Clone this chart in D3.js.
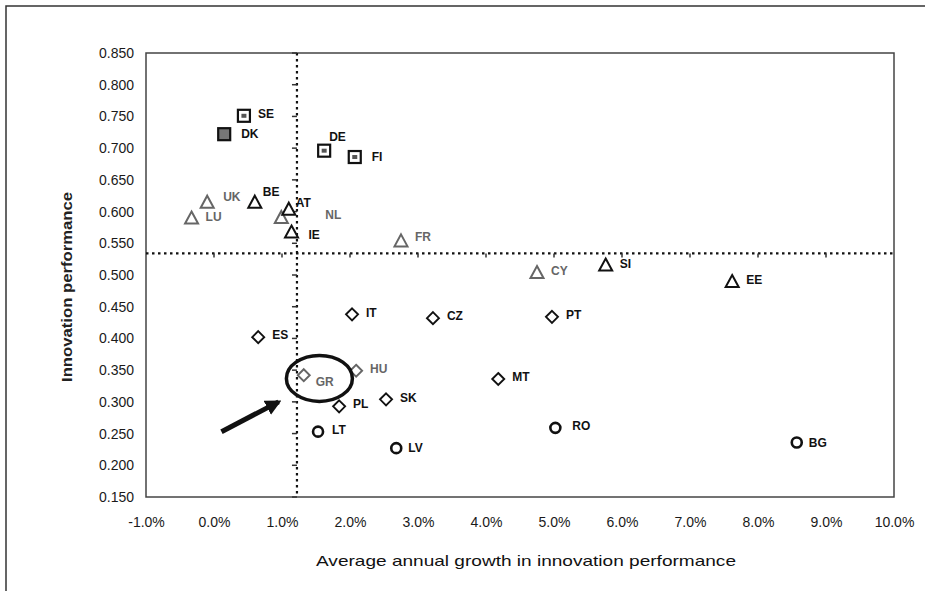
<!DOCTYPE html>
<html><head><meta charset="utf-8">
<script src="https://cdn.jsdelivr.net/npm/d3@7"></script>
<style>
html,body{margin:0;padding:0;background:#fff;}
svg{display:block;font-family:"Liberation Sans",Arial,sans-serif;}
</style></head>
<body>
<svg id="chart" width="925" height="591"></svg>
<script>
// ---- data ----
const countries   = ["SE","DK","DE","FI","UK","BE","LU","NL","AT","IE","FR","CY","SI","EE","IT","CZ","ES","HU","GR","PL","SK","PT","MT","LT","LV","RO","BG"];
const growth      = [0.44,0.15,1.62,2.07,-0.10,0.60,-0.33,0.99,1.10,1.14,2.75,4.75,5.76,7.62,2.03,3.22,0.65,2.09,1.32,1.84,2.53,4.97,4.18,1.53,2.68,5.02,8.57];
const performance = [0.751,0.722,0.696,0.686,0.614,0.614,0.589,0.590,0.603,0.567,0.553,0.503,0.515,0.489,0.438,0.432,0.402,0.349,0.342,0.293,0.304,0.434,0.336,0.253,0.227,0.259,0.236];
const group       = ["leader","leader","leader","leader","follower","follower","follower","follower","follower","follower","follower","follower","follower","follower","moderate","moderate","moderate","moderate","moderate","moderate","moderate","moderate","moderate","catching","catching","catching","catching"];
const xTicks = [-1,0,1,2,3,4,5,6,7,8,9,10];
const yTicks = [0.15,0.2,0.25,0.3,0.35,0.4,0.45,0.5,0.55,0.6,0.65,0.7,0.75,0.8,0.85];
const euAvgGrowth = 1.22;
const euAvgPerf = 0.534;
const xTitle = "Average annual growth in innovation performance";
const yTitle = "Innovation performance";

// ---- layout / style ----
const svg = d3.select("#chart");
const L = 146, R = 894, T = 53, B = 497;
const x = d3.scaleLinear().domain([-1,10]).range([L,R]);
const y = d3.scaleLinear().domain([0.15,0.85]).range([B,T]);
const labelOffset = {DE:[5,-14],BE:[8,-11],UK:[16,-6],NL:[44,-3],AT:[7,-7],IE:[17,2],GR:[12,7],LV:[12,0],BG:[12,0],DK:[17,0],FI:[17,0],RO:[17,-2],FR:[14,-5]};
const grayLabels = new Set(["UK","LU","NL","FR","CY","HU","GR"]);

// outer frame (left and top only)
svg.append("path").attr("d","M6,591 L6,6 L925,6")
  .attr("fill","none").attr("stroke","#333").attr("stroke-width",1.5);

// plot box
svg.append("rect").attr("x",L).attr("y",T).attr("width",R-L).attr("height",B-T)
  .attr("fill","none").attr("stroke","#444").attr("stroke-width",1.5);

// axes labels via d3 axes (no domain/ticks)
const yAxis = svg.append("g").attr("transform",`translate(${L},0)`)
  .call(d3.axisLeft(y).tickValues(yTicks).tickFormat(d3.format(".3f")).tickSize(0).tickPadding(12));
const xAxis = svg.append("g").attr("transform",`translate(0,${B})`)
  .call(d3.axisBottom(x).tickValues(xTicks).tickFormat(d=>d.toFixed(1)+"%").tickSize(0).tickPadding(20));
[yAxis,xAxis].forEach(g=>{
  g.select(".domain").remove();
  g.selectAll("text").attr("font-size",14).attr("fill","#1a1a1a")
   .attr("font-family","'Liberation Sans',Arial,sans-serif");
});

// average lines (dotted)
svg.append("line").attr("x1",L).attr("x2",R).attr("y1",y(euAvgPerf)).attr("y2",y(euAvgPerf))
  .attr("stroke","#111").attr("stroke-width",2.2).attr("stroke-dasharray","2.5,3.5");
svg.append("line").attr("x1",x(euAvgGrowth)).attr("x2",x(euAvgGrowth)).attr("y1",T).attr("y2",B)
  .attr("stroke","#111").attr("stroke-width",2.2).attr("stroke-dasharray","2.5,3.5");
// small ticks on the average lines
svg.append("g").selectAll("line").data(yTicks).join("line")
  .attr("x1",x(euAvgGrowth)-5).attr("x2",x(euAvgGrowth)).attr("y1",d=>y(d)).attr("y2",d=>y(d))
  .attr("stroke","#333").attr("stroke-width",1.5);
svg.append("g").selectAll("line").data(xTicks.slice(1,-1)).join("line")
  .attr("x1",d=>x(d)).attr("x2",d=>x(d)).attr("y1",y(euAvgPerf)).attr("y2",y(euAvgPerf)+4)
  .attr("stroke","#333").attr("stroke-width",1.5);

// titles
svg.append("text").attr("x",526).attr("y",566).attr("text-anchor","middle")
  .attr("font-size",15).attr("fill","#111").attr("textLength",420).attr("lengthAdjust","spacingAndGlyphs")
  .text(xTitle);
svg.append("text").attr("transform",`translate(72,${(T+B)/2+12}) rotate(-90)`).attr("text-anchor","middle")
  .attr("font-size",14).attr("font-weight","bold").attr("fill","#222")
  .attr("textLength",190).attr("lengthAdjust","spacingAndGlyphs").text(yTitle);

// points
const pts = countries.map((c,i)=>({c, gx:growth[i], p:performance[i], g:group[i]}));
const gPts = svg.append("g");
pts.forEach(d=>{
  const cx = x(d.gx), cy = y(d.p);
  const tone = grayLabels.has(d.c) ? "#666" : "#111";
  if (d.g==="leader") {
    gPts.append("rect").attr("x",cx-6).attr("y",cy-6).attr("width",12).attr("height",12)
      .attr("fill", d.c==="DK" ? "#777" : "#fff").attr("stroke","#111").attr("stroke-width",2.2);
    if (d.c!=="DK") gPts.append("rect").attr("x",cx-2.5).attr("y",cy-2).attr("width",5).attr("height",4).attr("fill","#555");
  } else if (d.g==="follower") {
    gPts.append("path").attr("d","M0,-7 L6.5,5 L-6.5,5 Z").attr("transform",`translate(${cx},${cy})`)
      .attr("fill","#fff").attr("stroke",tone).attr("stroke-width",2);
  } else if (d.g==="moderate") {
    gPts.append("path").attr("d","M0,-6 L6,0 L0,6 L-6,0 Z").attr("transform",`translate(${cx},${cy})`)
      .attr("fill","#fff").attr("stroke",tone).attr("stroke-width",1.9);
  } else {
    gPts.append("circle").attr("cx",cx).attr("cy",cy).attr("r",5)
      .attr("fill","#fff").attr("stroke","#111").attr("stroke-width",2.6);
  }
  const off = labelOffset[d.c] || [14,-2];
  gPts.append("text").attr("x",cx+off[0]).attr("y",cy+off[1]).attr("dy","0.35em")
    .attr("font-size",12).attr("font-weight","bold").attr("fill",tone).text(d.c);
});

// annotation: ellipse and arrow around GR
svg.append("ellipse").attr("cx",x(1.55)).attr("cy",y(0.337)).attr("rx",33).attr("ry",23)
  .attr("fill","none").attr("stroke","#111").attr("stroke-width",3.5);
svg.append("defs").append("marker").attr("id","ah").attr("viewBox","0 0 10 10").attr("refX",8).attr("refY",5)
  .attr("markerWidth",3.2).attr("markerHeight",3.2).attr("orient","auto")
  .append("path").attr("d","M0,0 L10,5 L0,10 Z").attr("fill","#111");
svg.append("line").attr("x1",x(0.11)).attr("y1",y(0.253)).attr("x2",x(0.95)).attr("y2",y(0.300))
  .attr("stroke","#111").attr("stroke-width",5).attr("marker-end","url(#ah)");
</script>
</body></html>
